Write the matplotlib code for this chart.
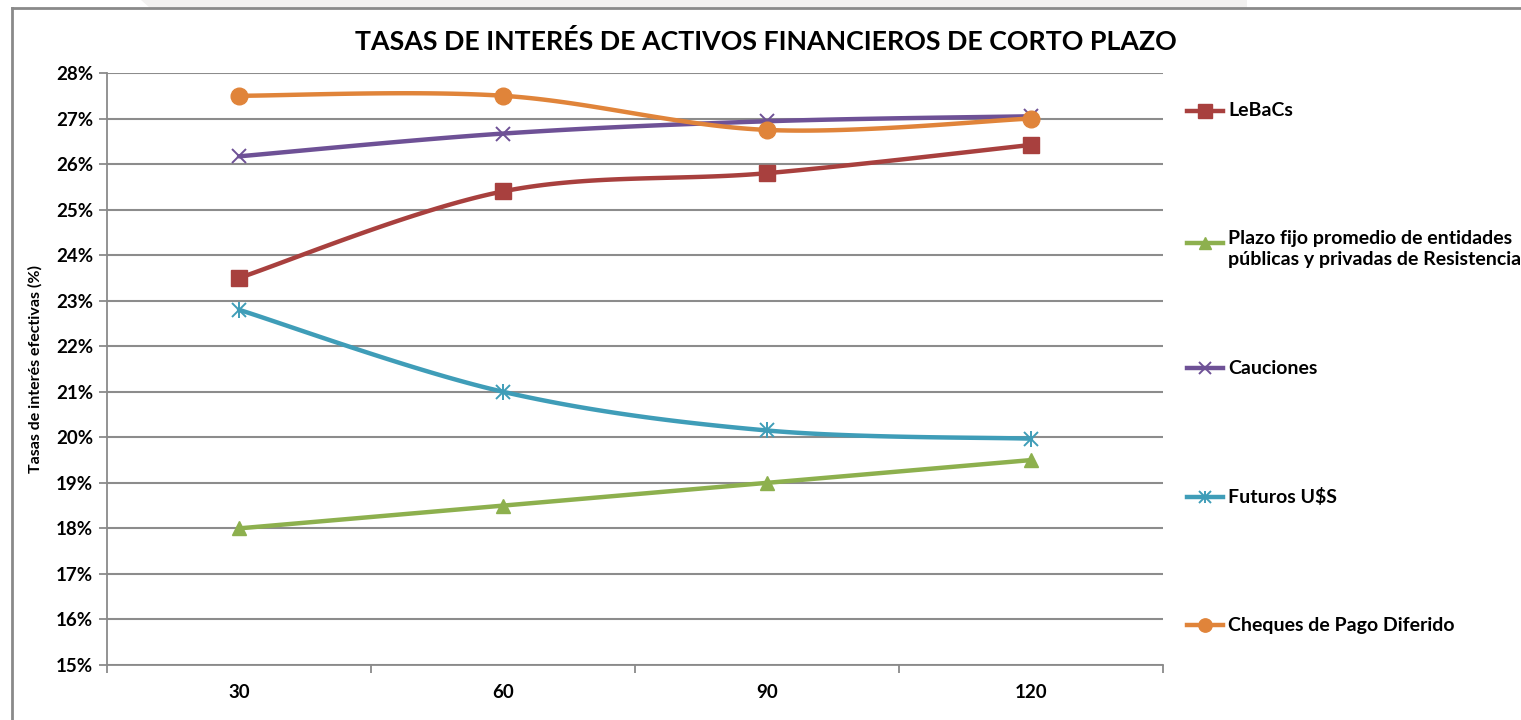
import numpy as np
import matplotlib
matplotlib.use("Agg")
import matplotlib.pyplot as plt
from matplotlib.patches import Polygon

categories = ["30", "60", "90", "120"]
lebacs = [23.5, 25.4, 25.8, 26.42]
plazo_fijo = [18.0, 18.5, 19.0, 19.5]
cauciones = [26.17, 26.67, 26.94, 27.05]
futuros = [22.8, 21.0, 20.15, 19.97]
cheques = [27.5, 27.5, 26.75, 27.0]

labels = ["LeBaCs",
          "Plazo fijo promedio de entidades\npúblicas y privadas de Resistencia",
          "Cauciones", "Futuros U$S", "Cheques de Pago Diferido"]
colors = ["#A8403E", "#8DB04E", "#6E5196", "#3F9DB8", "#E0843A"]

yticks = list(range(15, 29))

plt.rcParams['font.family'] = ['Lato', 'DejaVu Sans']


def smooth_curve(xs, ys, n=40):
    # Excel-like smoothing: cubic Bezier with Catmull-Rom tangents
    xs = np.asarray(xs, float)
    ys = np.asarray(ys, float)
    P = np.column_stack([xs, ys])
    out = [P[0]]
    m = len(P)
    for i in range(m - 1):
        p0 = P[i - 1] if i > 0 else P[i]
        p1 = P[i]
        p2 = P[i + 1]
        p3 = P[i + 2] if i + 2 < m else P[i + 1]
        c1 = p1 + (p2 - p0) / 6.0
        c2 = p2 - (p3 - p1) / 6.0
        t = np.linspace(0, 1, n)[1:, None]
        seg = ((1 - t) ** 3) * p1 + 3 * ((1 - t) ** 2) * t * c1 + 3 * (1 - t) * t ** 2 * c2 + t ** 3 * p2
        out.extend(seg)
    out = np.array(out)
    return out[:, 0], out[:, 1]


fig = plt.figure(figsize=(15.21, 7.2), dpi=100)
fig.patch.set_facecolor("white")

# page background strip and chart border
fig.patches.append(Polygon([[141 / 1521, 1], [1247 / 1521, 1], [1247 / 1521, 1 - 8 / 720],
                            [150 / 1521, 1 - 8 / 720]], closed=True, transform=fig.transFigure,
                           facecolor="#F2F1F0", edgecolor="none", zorder=0))
fig.lines.append(plt.Line2D([12 / 1521, 1], [1 - 8 / 720, 1 - 8 / 720], transform=fig.transFigure,
                            color="#8A8A8A", lw=2.0))
fig.lines.append(plt.Line2D([12 / 1521, 12 / 1521], [0, 1 - 8 / 720], transform=fig.transFigure,
                            color="#8A8A8A", lw=2.0))

ax = fig.add_axes([107 / 1521, 55 / 720, (1163 - 107) / 1521, (665 - 73) / 720])

x = np.arange(len(categories))
series = [lebacs, plazo_fijo, cauciones, futuros, cheques]
markers = ["s", "^", "x", "x", "o"]
msizes = [12, 10, 10, 10, 12]

handles = []
for vals, lab, col, mk, ms in zip(series, labels, colors, markers, msizes):
    sx, sy = smooth_curve(x, vals)
    ax.plot(sx, sy, color=col, lw=3.2, solid_capstyle="round", zorder=3)
    if mk == "x":
        ax.plot(x, vals, linestyle="none", marker="x", markersize=ms, markeredgewidth=1.4,
                color=col, zorder=4)
    else:
        ax.plot(x, vals, linestyle="none", marker=mk, markersize=ms, color=col,
                markeredgecolor=col, zorder=4)
    if lab.startswith("Futuros"):
        ax.plot(x, vals, linestyle="none", marker="|", markersize=ms + 1, markeredgewidth=1.4,
                color=col, zorder=4)
    h, = ax.plot([], [], color=col, lw=3.2, marker=mk, markersize=ms * 0.8,
                 markeredgewidth=1.4 if mk == "x" else 1.0, label=lab)
    handles.append(h)

ax.set_xlim(-0.5, len(categories) - 0.5)
ax.set_ylim(15, 28)
ax.set_yticks(yticks)
ax.set_yticklabels([f"{v}%" for v in yticks], fontsize=13.5, fontweight="bold")
ax.set_xticks(x)
ax.set_xticklabels(categories, fontsize=13.5, fontweight="bold")
ax.set_xticks(np.arange(-0.5, len(categories)), minor=True)
ax.tick_params(axis="x", which="major", length=0, pad=14)
ax.tick_params(axis="x", which="minor", length=6, width=1.3, color="#8A8A8A", direction="out")
ax.tick_params(axis="y", length=6, width=1.3, color="#8A8A8A", pad=4)
ax.grid(axis="y", color="#8C8C8C", lw=1.5, zorder=0)
ax.set_axisbelow(True)
for s in ["top", "right"]:
    ax.spines[s].set_visible(False)
ax.spines["left"].set_color("#8A8A8A")
ax.spines["left"].set_linewidth(1.3)
ax.spines["bottom"].set_color("#8A8A8A")
ax.spines["bottom"].set_linewidth(1.3)

ax.set_ylabel("Tasas de interés efectivas (%)", fontsize=11.5, fontweight="bold", labelpad=10)

fig.text(766 / 1521, 1 - 42 / 720, "TASAS DE INTERÉS DE ACTIVOS FINANCIEROS DE CORTO PLAZO",
         ha="center", va="center", fontsize=19.3, fontweight="bold")

# legend entries placed vertically like the Excel legend
legend_y = [111, 243, 368, 497, 625]
for h, lab, ly in zip(handles, labels, legend_y):
    yf = 1 - ly / 720
    fig.lines.append(plt.Line2D([1187 / 1521, 1223 / 1521], [yf, yf], transform=fig.transFigure,
                                color=h.get_color(), lw=3.2))
    fig.lines.append(plt.Line2D([1205 / 1521], [yf], transform=fig.transFigure,
                                color=h.get_color(), marker=h.get_marker(),
                                markersize=h.get_markersize(), markeredgewidth=h.get_markeredgewidth(),
                                linestyle="none"))
    if lab.startswith("Futuros"):
        fig.lines.append(plt.Line2D([1205 / 1521], [yf], transform=fig.transFigure,
                                    color=h.get_color(), marker="|",
                                    markersize=h.get_markersize() + 1, markeredgewidth=1.4,
                                    linestyle="none"))
    if "\n" in lab:
        fig.text(1228 / 1521, 1 - (ly - 13) / 720, lab, ha="left", va="top", fontsize=14,
                 fontweight="bold", linespacing=1.25)
    else:
        fig.text(1228 / 1521, yf, lab, ha="left", va="center", fontsize=14, fontweight="bold")

fig.savefig("out.png", dpi=100, facecolor="white")
